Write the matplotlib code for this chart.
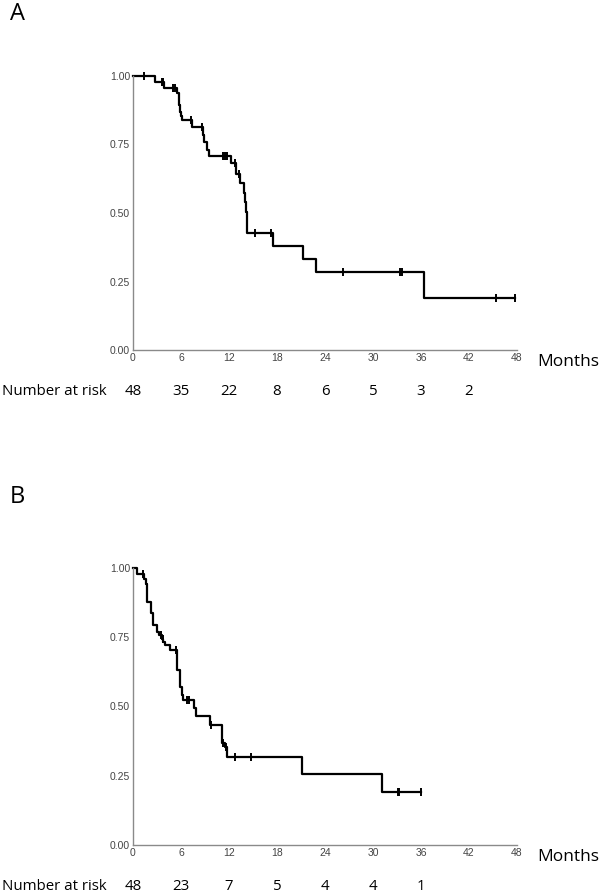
import numpy as np
import matplotlib
matplotlib.use("Agg")
import matplotlib.pyplot as plt
from matplotlib.transforms import blended_transform_factory

# panel A: vrijeme dogadaja (mjeseci) i prezivljenje nakon dogadaja
a_times = [0, 2.8, 3.9, 5.5, 5.7, 5.85, 6.0, 6.1, 7.4, 8.7, 8.9, 9.2, 9.45,
           12.3, 12.9, 13.4, 13.9, 14.0, 14.1, 14.2, 17.5, 21.3, 22.9, 36.4]
a_surv = [1.0, 0.979, 0.958, 0.937, 0.895, 0.870, 0.854, 0.839, 0.813, 0.785,
          0.760, 0.730, 0.708, 0.681, 0.642, 0.608, 0.572, 0.540, 0.505, 0.426,
          0.380, 0.331, 0.284, 0.189]
a_censor = [1.4, 3.65, 3.8, 5.0, 5.3, 7.2, 8.6, 11.3, 11.5, 11.75, 12.7, 13.3,
            15.3, 17.25, 26.3, 33.4, 33.6, 45.4, 47.8]
a_end = 47.8
a_risk = [48, 35, 22, 8, 6, 5, 3, 2]

# panel B
b_times = [0, 0.46, 1.38, 1.58, 1.71, 2.2, 2.46, 3.04, 3.3, 3.6, 3.8, 4.0, 4.6,
           5.54, 5.88, 6.08, 6.29, 7.62, 7.83, 9.62, 11.08, 11.5, 11.79, 21.1,
           31.1]
b_surv = [1.0, 0.979, 0.960, 0.942, 0.879, 0.836, 0.794, 0.770, 0.758, 0.745,
          0.733, 0.722, 0.704, 0.632, 0.571, 0.541, 0.523, 0.493, 0.464, 0.433,
          0.367, 0.355, 0.319, 0.256, 0.192]
b_censor = [1.29, 3.55, 3.75, 5.4, 6.8, 7.0, 9.75, 11.3, 11.6, 12.75, 14.8,
            33.1, 33.3, 36.0]
b_end = 36.0
b_risk = [48, 23, 7, 5, 4, 4, 1]

months = list(range(0, 49, 6))
y_ticks = [0.0, 0.25, 0.5, 0.75, 1.0]
y_labels = ["0.00", "0.25", "0.50", "0.75", "1.00"]

W, H = 605, 894
fig = plt.figure(figsize=(W / 100, H / 100), dpi=100)
big_font = "Open Sans"


def panel(top, h, label, label_y, times, surv, censor, end, risk):
    ax = fig.add_axes([133 / W, 1 - (top + h) / H, 384 / W, h / H])
    t = times + [end]
    s = surv + [surv[-1]]
    ax.step(t, s, where="post", color="black", lw=1.6, clip_on=False)
    idx = np.searchsorted(times, censor, side="right") - 1
    ax.plot(censor, np.array(surv)[idx], ls="none", marker="|", ms=6, mew=1.4,
            color="black", clip_on=False)
    ax.set_xlim(0, 48)
    ax.set_ylim(0, 1)
    ax.set_xticks(months)
    ax.set_yticks(y_ticks)
    ax.set_yticklabels(y_labels)
    for side in ["top", "right"]:
        ax.spines[side].set_visible(False)
    for side in ["left", "bottom"]:
        ax.spines[side].set_color("#8a8a8a")
        ax.spines[side].set_linewidth(1.0)
    ax.tick_params(length=0, labelsize=7.5, labelcolor="#444444", pad=2)
    for lab in ax.get_xticklabels() + ax.get_yticklabels():
        lab.set_family("Liberation Sans")

    bottom_px = top + h
    fig.text(10 / W, 1 - label_y / H, label, fontsize=17, family=big_font,
             va="center", ha="left")
    fig.text(537 / W, 1 - (bottom_px + 12) / H, "Months", fontsize=12.5,
             family=big_font, va="center", ha="left")
    ry = 1 - (bottom_px + 42) / H
    fig.text(2 / W, ry, "Number at risk", fontsize=10.8, family=big_font,
             va="center", ha="left")
    tr = blended_transform_factory(ax.transData, fig.transFigure)
    for m, n in zip(months, risk):
        ax.text(m, ry, str(n), transform=tr, fontsize=10.8, family=big_font,
                va="center", ha="center")


panel(76, 274, "A", 14, a_times, a_surv, a_censor, a_end, a_risk)
panel(568, 277, "B", 497, b_times, b_surv, b_censor, b_end, b_risk)

fig.savefig("out.png", dpi=100)
